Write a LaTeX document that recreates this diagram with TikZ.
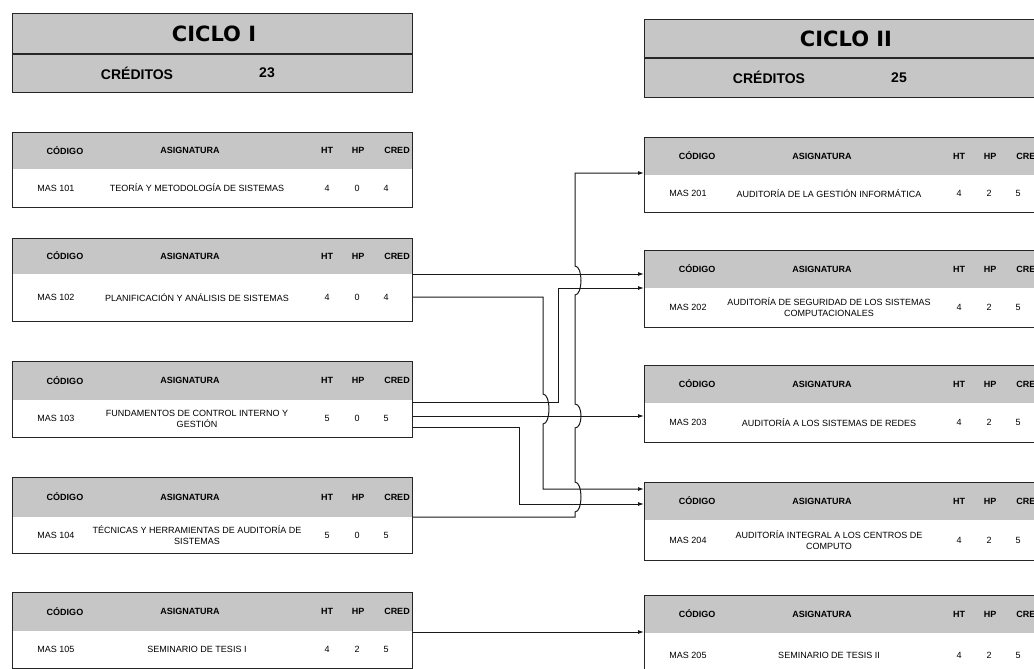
\documentclass[tikz,border=0pt]{standalone}
\usepackage{fontspec}
\setmainfont{Liberation Sans}
\newfontfamily\heavyfont{DejaVu Sans}
\usetikzlibrary{arrows.meta}
\definecolor{hdr}{RGB}{198,198,198}

\tikzset{
  frame/.style={draw=black!85, line width=1.1pt, inner sep=0pt},
  colhead/.style={font=\fontsize{9}{10}\selectfont\bfseries, inner sep=0pt},
  cell/.style={font=\fontsize{9}{11}\selectfont, inner sep=0pt, align=center},
  title/.style={font=\heavyfont\fontsize{21}{24}\selectfont\bfseries, inner sep=0pt},
  credlabel/.style={font=\fontsize{14}{16}\selectfont\bfseries, inner sep=0pt},
  link/.style={draw=black!90, line width=1pt, -{Latex[length=6pt,width=4pt]}},
}

% #1 name, #2 x left, #3 y top, #4 y end of grey, #5 y bottom, #6 code, #7 title, #8 ht/hp/cred
\newcommand\course[8]{%
  \fill[hdr] (#2,#3) rectangle (#2+400,#4);
  \node[frame, anchor=north west, minimum width=400pt, minimum height={(#5-#3)*1pt}] (#1) at (#2,#3) {};
  \node[colhead] (#1-h1) at (#2+53,{(#3+#4)/2}) {CÓDIGO};
  \node[colhead] (#1-h2) at (#2+178,{(#3+#4)/2}) {ASIGNATURA};
  \node[colhead] (#1-h3) at (#2+315,{(#3+#4)/2}) {HT};
  \node[colhead] (#1-h4) at (#2+346,{(#3+#4)/2}) {HP};
  \node[colhead] (#1-h5) at (#2+385,{(#3+#4)/2}) {CRED};
  \node[cell] (#1-code) at (#2+44,{(#4+#5)/2}) {#6};
  \node[cell] (#1-name) at (#2+185,{(#4+#5)/2}) {#7};
  \foreach \vht/\vhp/\vcr in {#8}{%
    \node[cell] (#1-ht) at (#2+315,{(#4+#5)/2}) {\vht};
    \node[cell] (#1-hp) at (#2+345,{(#4+#5)/2}) {\vhp};
    \node[cell] (#1-cr) at (#2+374,{(#4+#5)/2}) {\vcr};
  }%
}

% #1 name, #2 x left, #3 y top, #4 y divider, #5 y bottom, #6 title, #7 credits
\newcommand\cyclehead[7]{%
  \node[frame, fill=hdr, anchor=north west, minimum width=400pt, minimum height={(#5-#3)*1pt}] (#1) at (#2,#3) {};
  \draw[black!85, line width=1.1pt] (#1.west |- 0,#4) -- (#1.east |- 0,#4);
  \node[title] (#1-t) at (#2+202,{(#3+#4)/2}) {#6};
  \node[credlabel] (#1-c) at (#2+125,{(#4+#5)/2}) {CRÉDITOS};
  \node[credlabel] (#1-n) at (#2+255,{(#4+#5)/2}) {#7};
}

\begin{document}
\begin{tikzpicture}[x=1pt,y=-1pt]
\useasboundingbox (0,0) rectangle (1034,669);
\clip (0,0) rectangle (1034,669);
\fill[white] (0,0) rectangle (1034,669);

% Ciclo I
\cyclehead{h1}{12}{13}{54}{92}{CICLO I}{23}
\course{c101}{12}{132}{169}{207}{MAS 101}{TEORÍA Y METODOLOGÍA DE SISTEMAS}{4/0/4}
\course{c102}{12}{238}{274}{321}{MAS 102}{PLANIFICACIÓN Y ANÁLISIS DE SISTEMAS}{4/0/4}
\course{c103}{12}{361}{400}{437}{MAS 103}{FUNDAMENTOS DE CONTROL INTERNO Y\\GESTIÓN}{5/0/5}
\course{c104}{12}{477}{517}{553}{MAS 104}{TÉCNICAS Y HERRAMIENTAS DE AUDITORÍA DE\\SISTEMAS}{5/0/5}
\course{c105}{12}{592}{631}{668}{MAS 105}{SEMINARIO DE TESIS I}{4/2/5}

% Ciclo II
\cyclehead{h2}{644}{19}{58}{97}{CICLO II}{25}
\course{c201}{644}{137}{175}{212}{MAS 201}{AUDITORÍA DE LA GESTIÓN INFORMÁTICA}{4/2/5}
\course{c202}{644}{250}{288}{327}{MAS 202}{AUDITORÍA DE SEGURIDAD DE LOS SISTEMAS\\COMPUTACIONALES}{4/2/5}
\course{c203}{644}{365}{403}{442}{MAS 203}{AUDITORÍA A LOS SISTEMAS DE REDES}{4/2/5}
\course{c204}{644}{482}{520}{560}{MAS 204}{AUDITORÍA INTEGRAL A LOS CENTROS DE\\COMPUTO}{4/2/5}
\course{c205}{644}{595}{633}{677}{MAS 205}{SEMINARIO DE TESIS II}{4/2/5}

% Connectors
\draw[link] (c102.east |- 0,274) -- (c202.west |- 0,274);
\draw[link] (c102.east |- 0,297) -- (543,297) -- (543,394)
   .. controls (551,394) and (551,424) .. (543,424) -- (543,489) -- (c204.west |- 0,489);
\draw[link] (c103.east |- 0,402) -- (558,402) -- (558,288) -- (c202.west |- 0,288);
\draw[link] (c103.east |- 0,416) -- (c203.west |- 0,416);
\draw[link] (c103.east |- 0,427) -- (519,427) -- (519,504) -- (c204.west |- 0,504);
\draw[link] (c104.east |- 0,517) -- (575,517) -- (575,512)
   .. controls (583,512) and (583,482) .. (575,482) -- (575,428)
   .. controls (583,428) and (583,404) .. (575,404) -- (575,295)
   .. controls (583,295) and (583,266) .. (575,266) -- (575,173) -- (c201.west |- 0,173);
\draw[link] (c105.east |- 0,632) -- (c205.west |- 0,632);
\end{tikzpicture}
\end{document}
